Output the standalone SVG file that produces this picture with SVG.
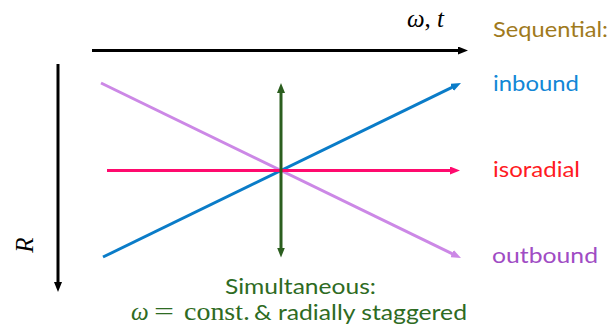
<svg xmlns="http://www.w3.org/2000/svg" width="612" height="330" viewBox="0 0 612 330">
<defs>
<style>
.sans{font-family:Lato,"Open Sans","Liberation Sans",sans-serif;font-size:22px}
.math{font-family:"Liberation Serif","DejaVu Serif",serif;font-size:25px}
.it{font-style:italic}
.ln{fill:none;stroke-width:3}
</style>
<marker id="ak" markerUnits="userSpaceOnUse" markerWidth="10" markerHeight="8" refX="4" refY="4" orient="auto"><path d="M0,0 L10,4 L0,8 z" fill="#000"/></marker>
<marker id="ab" markerUnits="userSpaceOnUse" markerWidth="10" markerHeight="8" refX="4" refY="4" orient="auto"><path d="M0,0 L10,4 L0,8 z" fill="#0A7CC8"/></marker>
<marker id="ap" markerUnits="userSpaceOnUse" markerWidth="10" markerHeight="8" refX="4" refY="4" orient="auto"><path d="M0,0 L10,4 L0,8 z" fill="#FF0A6E"/></marker>
<marker id="av" markerUnits="userSpaceOnUse" markerWidth="10" markerHeight="8" refX="4" refY="4" orient="auto"><path d="M0,0 L10,4 L0,8 z" fill="#CC88E6"/></marker>
<marker id="ag" markerUnits="userSpaceOnUse" markerWidth="10" markerHeight="8" refX="4" refY="4" orient="auto-start-reverse"><path d="M0,0 L10,4 L0,8 z" fill="#2B5E1F"/></marker>
</defs>
<rect width="612" height="330" fill="#fff"/>
<g id="connectors">
<line class="ln" x1="92" y1="50.5" x2="462" y2="50.5" stroke="#000" marker-end="url(#ak)"/>
<line class="ln" x1="58" y1="64" x2="58" y2="286" stroke="#000" marker-end="url(#ak)"/>
<line class="ln" x1="101" y1="83" x2="455.6" y2="255.4" stroke="#CC88E6" marker-end="url(#av)"/>
<line class="ln" x1="103" y1="257" x2="455.6" y2="85.6" stroke="#0A7CC8" marker-end="url(#ab)"/>
<line class="ln" x1="107" y1="170.5" x2="454" y2="170.5" stroke="#FF0A6E" marker-end="url(#ap)"/>
<line class="ln" x1="281" y1="89" x2="281" y2="251.5" stroke="#2B5E1F" marker-start="url(#ag)" marker-end="url(#ag)"/>
</g>
<g id="axis-labels">
<text class="math" x="407" y="27" textLength="37" lengthAdjust="spacingAndGlyphs"><tspan class="it">ω</tspan>, <tspan class="it">t</tspan></text>
<text class="math it" transform="translate(33,245) rotate(-90)" text-anchor="middle" font-size="23">R</text>
</g>
<g id="sequential">
<text class="sans" x="493" y="36.7" fill="#A07A1C" textLength="115" lengthAdjust="spacingAndGlyphs">Sequential:</text>
</g>
<g id="inbound">
<text class="sans" x="493" y="91" fill="#1287D6" textLength="86" lengthAdjust="spacingAndGlyphs">inbound</text>
</g>
<g id="isoradial">
<text class="sans" x="493" y="177" fill="#FF1A22" textLength="87" lengthAdjust="spacingAndGlyphs">isoradial</text>
</g>
<g id="outbound">
<text class="sans" x="492" y="263" fill="#A04CC4" textLength="106" lengthAdjust="spacingAndGlyphs">outbound</text>
</g>
<g id="simultaneous" fill="#2E6B23">
<text class="sans" x="225" y="294" textLength="151" lengthAdjust="spacingAndGlyphs">Simultaneous:</text>
<text class="math it" x="131" y="320">ω</text>
<text class="math" x="154" y="320" textLength="20" lengthAdjust="spacingAndGlyphs">=</text>
<text class="math" x="184" y="320" textLength="66" lengthAdjust="spacingAndGlyphs">const.</text>
<text class="sans" x="254" y="320" textLength="213" lengthAdjust="spacingAndGlyphs">&amp; radially staggered</text>
</g>
</svg>
